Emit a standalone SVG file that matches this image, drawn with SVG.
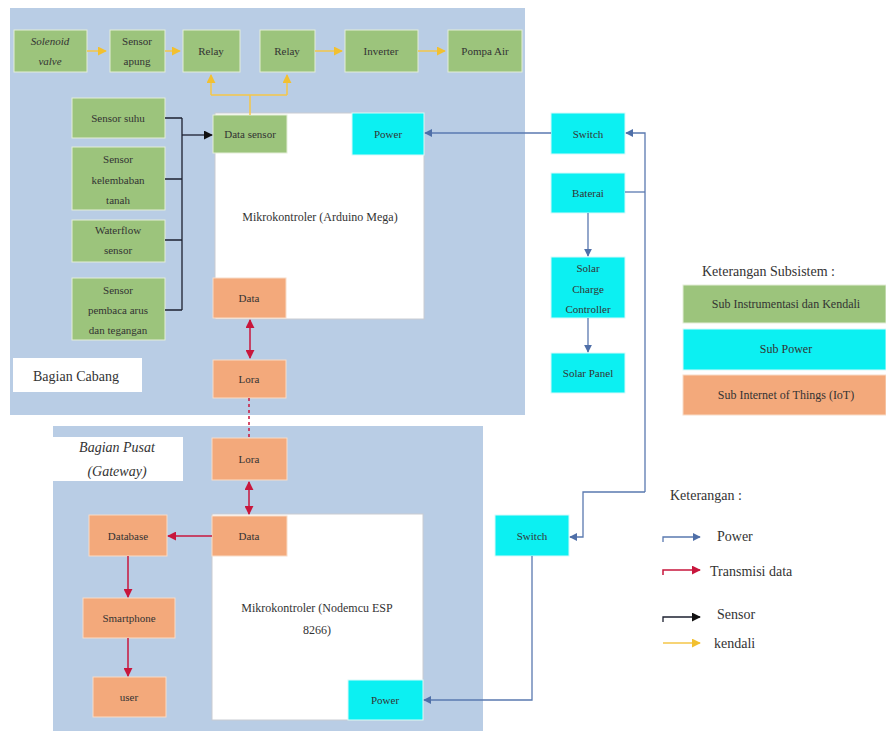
<svg xmlns="http://www.w3.org/2000/svg" width="886" height="731" viewBox="0 0 886 731">
<style>
.region{fill:#b9cde5}
.g{fill:#9cc47c;stroke:#e4eed8;stroke-width:1}
.c{fill:#0cf0f2;stroke:#d6fafa;stroke-width:1}
.o{fill:#f3a97b;stroke:#f8dcc8;stroke-width:1}
.w{fill:#ffffff;stroke:#c9ccd2;stroke-width:1}
.lbl{fill:#ffffff}
text{font-family:"Liberation Serif","Times New Roman",serif;fill:#333;font-size:11px;text-anchor:middle}
.big{font-size:14px}
.mid{font-size:12px}
.it{font-style:italic}
.st{text-anchor:start}
.pw{stroke:#5a79b0;stroke-width:1.3;fill:none}
.rd{stroke:#c8163c;stroke-width:1.5;fill:none}
.bk{stroke:#1c2030;stroke-width:1.3;fill:none}
.yl{stroke:#f5c648;stroke-width:1.5;fill:none}
</style>
<defs>
<marker id="aB" viewBox="0 0 10 10" refX="9" refY="5" markerWidth="8" markerHeight="8" markerUnits="userSpaceOnUse" orient="auto-start-reverse"><path d="M0,0 L10,5 L0,10 z" fill="#4f6fa8"/></marker>
<marker id="aR" viewBox="0 0 10 10" refX="9" refY="5" markerWidth="9" markerHeight="9" markerUnits="userSpaceOnUse" orient="auto-start-reverse"><path d="M0,0 L10,5 L0,10 z" fill="#c8163c"/></marker>
<marker id="aK" viewBox="0 0 10 10" refX="9" refY="5" markerWidth="9" markerHeight="9" markerUnits="userSpaceOnUse" orient="auto-start-reverse"><path d="M0,0 L10,5 L0,10 z" fill="#111"/></marker>
<marker id="aY" viewBox="0 0 10 10" refX="9" refY="5" markerWidth="9" markerHeight="9" markerUnits="userSpaceOnUse" orient="auto-start-reverse"><path d="M0,0 L10,5 L0,10 z" fill="#f2c030"/></marker>
</defs>

<rect width="886" height="731" fill="#ffffff"/>

<g id="region-cabang">
<rect class="region" x="10" y="8" width="515" height="407"/>
<rect class="lbl" x="13" y="358" width="129" height="34"/>
<text class="big" x="76" y="381">Bagian Cabang</text>
</g>
<g id="region-pusat">
<rect class="region" x="53" y="426" width="430" height="305"/>
<rect class="lbl" x="53" y="437" width="130" height="44"/>
<text class="big it" x="117" y="452">Bagian Pusat</text>
<text class="big it" x="117" y="476">(Gateway)</text>
</g>

<g id="mcu-arduino">
<rect class="w" x="215" y="113" width="209" height="206"/>
<text class="mid" x="320" y="221">Mikrokontroler (Arduino Mega)</text>
</g>
<g id="mcu-nodemcu">
<rect class="w" x="212" y="514" width="211" height="206"/>
<text class="mid" x="317" y="612">Mikrokontroler (Nodemcu ESP</text>
<text class="mid" x="317" y="634">8266)</text>
</g>

<g id="solenoid"><rect class="g" x="14" y="30" width="73" height="42"/><text class="it" x="50" y="45">Solenoid</text><text class="it" x="50" y="65">valve</text></g>
<g id="sensor-apung"><rect class="g" x="110" y="30" width="55" height="42"/><text x="137" y="45">Sensor</text><text x="137" y="65">apung</text></g>
<g id="relay1"><rect class="g" x="183" y="30" width="57" height="42"/><text x="211" y="55">Relay</text></g>
<g id="relay2"><rect class="g" x="260" y="30" width="55" height="42"/><text x="287" y="55">Relay</text></g>
<g id="inverter"><rect class="g" x="345" y="30" width="73" height="42"/><text x="381" y="55">Inverter</text></g>
<g id="pompa"><rect class="g" x="448" y="30" width="74" height="42"/><text x="485" y="55">Pompa Air</text></g>

<g id="sensor-suhu"><rect class="g" x="72" y="98" width="93" height="40"/><text x="118" y="122">Sensor suhu</text></g>
<g id="sensor-kelembaban"><rect class="g" x="72" y="147" width="93" height="63"/><text x="118" y="163">Sensor</text><text x="118" y="184">kelembaban</text><text x="118" y="204">tanah</text></g>
<g id="waterflow"><rect class="g" x="72" y="220" width="93" height="42"/><text x="118" y="234">Waterflow</text><text x="118" y="254">sensor</text></g>
<g id="sensor-arus"><rect class="g" x="72" y="278" width="93" height="62"/><text x="118" y="294">Sensor</text><text x="118" y="314">pembaca arus</text><text x="118" y="334">dan tegangan</text></g>

<g id="data-sensor"><rect class="g" x="213" y="115" width="74" height="38"/><text x="250" y="138">Data sensor</text></g>
<g id="power-top"><rect class="c" x="352" y="113" width="72" height="42"/><text x="388" y="138">Power</text></g>
<g id="data-top"><rect class="o" x="213" y="278" width="73" height="40"/><text x="249" y="302">Data</text></g>
<g id="lora-top"><rect class="o" x="213" y="360" width="73" height="38"/><text x="249" y="383">Lora</text></g>

<g id="switch-top"><rect class="c" x="551" y="113" width="74" height="41"/><text x="588" y="138">Switch</text></g>
<g id="baterai"><rect class="c" x="551" y="173" width="74" height="40"/><text x="588" y="197">Baterai</text></g>
<g id="scc"><rect class="c" x="551" y="257" width="74" height="61"/><text x="588" y="272">Solar</text><text x="588" y="293">Charge</text><text x="588" y="313">Controller</text></g>
<g id="solar-panel"><rect class="c" x="551" y="353" width="74" height="40"/><text x="588" y="377">Solar Panel</text></g>

<g id="lora-bottom"><rect class="o" x="212" y="438" width="75" height="42"/><text x="249" y="463">Lora</text></g>
<g id="data-bottom"><rect class="o" x="212" y="516" width="75" height="40"/><text x="249" y="540">Data</text></g>
<g id="power-bottom"><rect class="c" x="348" y="680" width="75" height="40"/><text x="385" y="704">Power</text></g>
<g id="database"><rect class="o" x="89" y="515" width="78" height="41"/><text x="128" y="540">Database</text></g>
<g id="smartphone"><rect class="o" x="83" y="598" width="92" height="40"/><text x="129" y="622">Smartphone</text></g>
<g id="user"><rect class="o" x="93" y="677" width="73" height="40"/><text x="129" y="701">user</text></g>
<g id="switch-bottom"><rect class="c" x="495" y="515" width="74" height="41"/><text x="532" y="540">Switch</text></g>

<g id="legend-subsistem">
<text class="big st" x="702" y="276">Keterangan Subsistem :</text>
<rect class="g" x="683" y="285" width="203" height="38"/><text class="mid" x="786" y="308">Sub Instrumentasi dan Kendali</text>
<rect class="c" x="683" y="329" width="203" height="41"/><text class="mid" x="786" y="353">Sub Power</text>
<rect class="o" x="683" y="375" width="203" height="40"/><text class="mid" x="786" y="399">Sub Internet of Things (IoT)</text>
</g>

<g id="legend-keterangan">
<text class="big st" x="670" y="500">Keterangan :</text>
<path class="pw" d="M663,542 V537 H700" marker-end="url(#aB)"/><text class="big st" x="717" y="541">Power</text>
<path class="rd" d="M663,575 V570 H700" marker-end="url(#aR)"/><text class="big st" x="710" y="576">Transmisi data</text>
<path class="bk" d="M663,622 V617 H700" marker-end="url(#aK)"/><text class="big st" x="717" y="619">Sensor</text>
<path class="yl" d="M663,643 H700" marker-end="url(#aY)"/><text class="big st" x="714" y="648">kendali</text>
</g>

<g id="connectors">
<path class="yl" d="M87,51 H106" marker-end="url(#aY)"/>
<path class="yl" d="M165,51 H180" marker-end="url(#aY)"/>
<path class="yl" d="M315,51 H342" marker-end="url(#aY)"/>
<path class="yl" d="M418,51 H445" marker-end="url(#aY)"/>
<path class="yl" d="M211,95 V75" marker-end="url(#aY)"/>
<path class="yl" d="M287,95 V75" marker-end="url(#aY)"/>
<path class="yl" d="M211,95 H287 M250,95 V115"/>

<path class="bk" d="M165,118 H182 M165,179 H182 M165,240 H182 M165,310 H182 M182,118 V310"/>
<path class="bk" d="M182,135 H212" marker-end="url(#aK)"/>

<path class="pw" d="M551,133 H425" marker-end="url(#aB)"/>
<path class="pw" d="M588,213 V256" marker-end="url(#aB)"/>
<path class="pw" d="M588,318 V352" marker-end="url(#aB)"/>
<path class="pw" d="M625,192 H645"/>
<path class="pw" d="M645,492 V133 H626" marker-end="url(#aB)"/>
<path class="pw" d="M645,492 H583 V537 H570" marker-end="url(#aB)"/>
<path class="pw" d="M532,556 V700 H424" marker-end="url(#aB)"/>

<path class="rd" d="M250,320 V358" marker-start="url(#aR)" marker-end="url(#aR)"/>
<path class="rd" d="M249,398 V438" stroke-dasharray="3,3"/>
<path class="rd" d="M249,482 V514" marker-start="url(#aR)" marker-end="url(#aR)"/>
<path class="rd" d="M212,536 H168" marker-end="url(#aR)"/>
<path class="rd" d="M128,556 V597" marker-end="url(#aR)"/>
<path class="rd" d="M128,638 V676" marker-end="url(#aR)"/>
</g>
</svg>
